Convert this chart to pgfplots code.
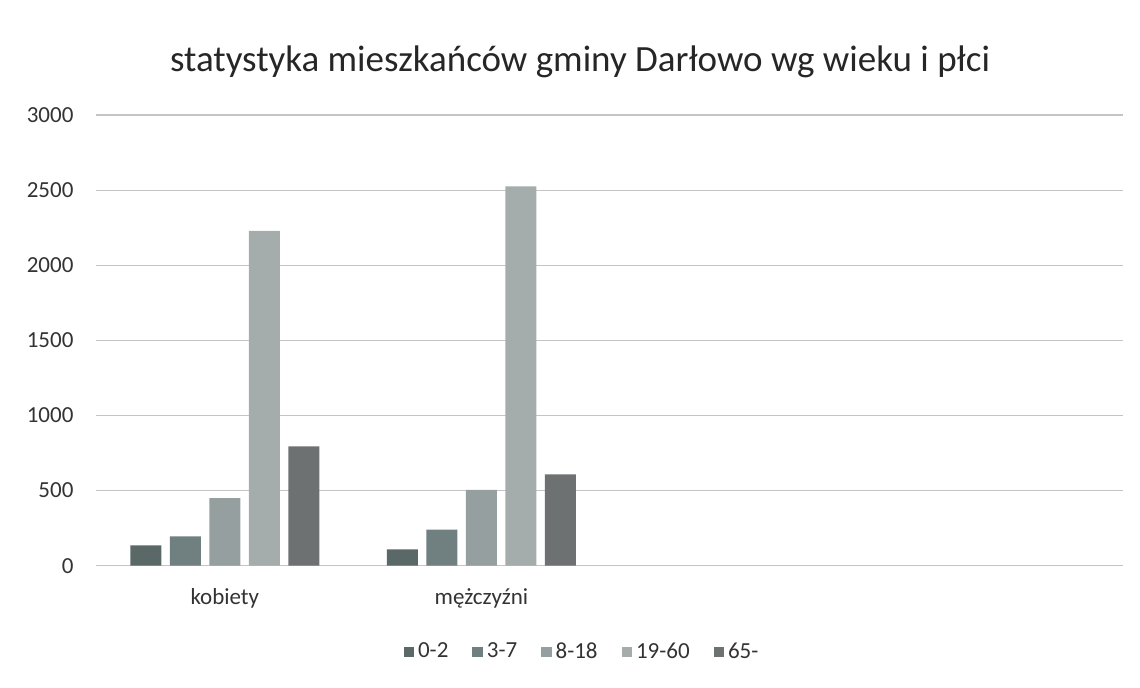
\documentclass[border=0pt]{standalone}
\usepackage{pgfplots}
\pgfplotsset{compat=1.18}
\usepackage{fontspec}
\setmainfont{Carlito}
\definecolor{cA}{HTML}{5A6868}
\definecolor{cB}{HTML}{707F80}
\definecolor{cC}{HTML}{959F9F}
\definecolor{cD}{HTML}{A4ACAC}
\definecolor{cE}{HTML}{6E7171}
\definecolor{gridc}{HTML}{C4C4C4}
\begin{document}
\begin{tikzpicture}
\useasboundingbox (-48.25pt,-61.15pt) rectangle (521.75pt,282.85pt);
\begin{axis}[
  at={(0,0)}, anchor=south west,
  scale only axis, width=513.25pt, height=225.35pt,
  xmin=-0.5, xmax=3.5, ymin=0, ymax=3000,
  ytick={0,500,...,3000},
  xtick={0,1}, xticklabels={kobiety, mężczyźni},
  ymajorgrids, grid style={draw=gridc, line width=0.6pt},
  axis line style={draw=none},
  major tick length=0pt,
  /pgf/number format/assume math mode=true,
  /pgf/number format/1000 sep={},
  ticklabel style={font=\fontsize{11.5}{13}\selectfont, text=black!80},
  yticklabel style={anchor=east, xshift=-8pt},
  xticklabel style={anchor=base, yshift=-19.6pt},
  ybar=4.25pt, bar width=15.5pt,
  legend columns=5,
  legend style={at={(0.474,-0.191)}, anchor=center, draw=none, fill=none,
    font=\fontsize{11.5}{13}\selectfont, text=black!80,
    /tikz/every even column/.append style={column sep=10pt}},
  legend image code/.code={\fill[#1] (0pt,-2.6pt) rectangle (5.2pt,2.6pt);},
]
\addplot[fill=cA, draw=none] coordinates {(0,135) (1,108)};
\addplot[fill=cB, draw=none] coordinates {(0,195) (1,240)};
\addplot[fill=cC, draw=none] coordinates {(0,450) (1,505)};
\addplot[fill=cD, draw=none] coordinates {(0,2228) (1,2525)};
\addplot[fill=cE, draw=none] coordinates {(0,795) (1,608)};
\legend{0-2,3-7,8-18,19-60,65-}
\end{axis}
\node[font=\fontsize{18.5}{21}\selectfont, text=black!85] at (241.75pt,251.85pt) {statystyka mieszkańców gminy Darłowo wg wieku i płci};
\end{tikzpicture}
\end{document}
